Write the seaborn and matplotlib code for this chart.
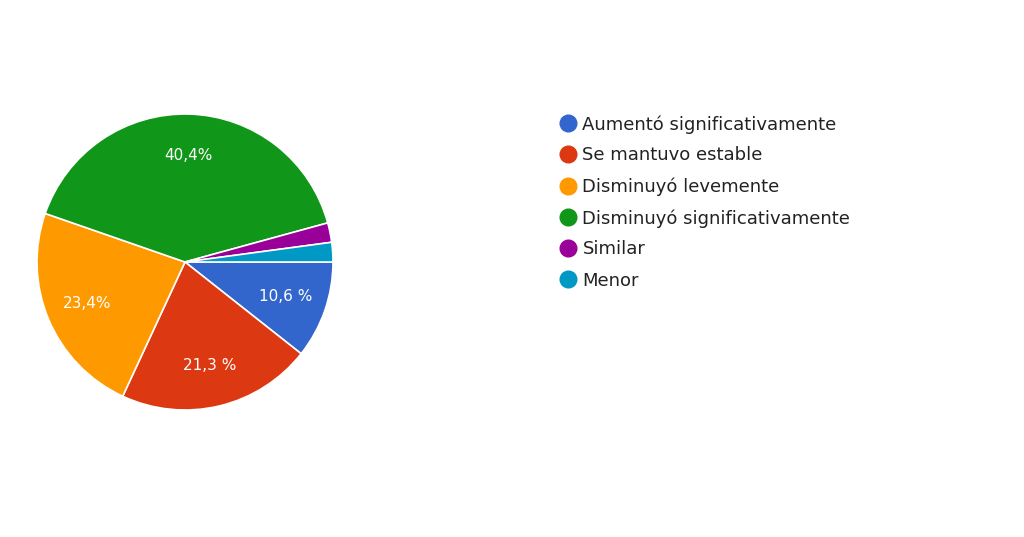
import matplotlib
matplotlib.use("Agg")
import matplotlib.pyplot as plt
from matplotlib.lines import Line2D
import numpy as np
import seaborn as sns

categories = ["Aumentó significativamente", "Se mantuvo estable", "Disminuyó levemente",
              "Disminuyó significativamente", "Similar", "Menor"]
counts = [5, 10, 11, 19, 1, 1]
pct_labels = ["10,6 %", "21,3 %", "23,4%", "40,4%", "", ""]
colors = ["#3366CC", "#DC3912", "#FF9900", "#109618", "#990099", "#0099C6"]

sns.set_theme(style="white")
plt.rcParams['font.family'] = ['DejaVu Sans']

fig = plt.figure(figsize=(10.24, 5.37), dpi=100)
W, H = 1024, 537
ax = fig.add_axes([37 / W, (H - 410) / H, 296 / W, 296 / H])
pal = sns.color_palette(colors)
wedges, _ = ax.pie(counts, colors=pal, startangle=0, counterclock=False,
                   radius=1.0, wedgeprops=dict(edgecolor="white", linewidth=1.2))
theta = 0.0
total = sum(counts)
for c, lab in zip(counts, pct_labels):
    span = 360.0 * c / total
    mid = np.deg2rad(theta - span / 2)
    theta -= span
    if lab:
        d = 0.72
        ax.text(d * np.cos(mid), d * np.sin(mid), lab, ha="center", va="center",
                color="white", fontsize=11)
ax.set_xlim(-1, 1)
ax.set_ylim(-1, 1)
ax.set_aspect("equal")
ax.axis("off")

handles = [Line2D([0], [0], marker="o", linestyle="none", markersize=12,
                  markerfacecolor=col, markeredgecolor=col) for col in pal]
fig.legend(handles, categories, loc="upper left", bbox_to_anchor=(559 / W, 1 - 115 / H),
           frameon=False, fontsize=13, labelspacing=0.72, handletextpad=0.3,
           handlelength=1.0, borderaxespad=0, borderpad=0, labelcolor="#222222")

fig.savefig("out.png", dpi=100, facecolor="white")
